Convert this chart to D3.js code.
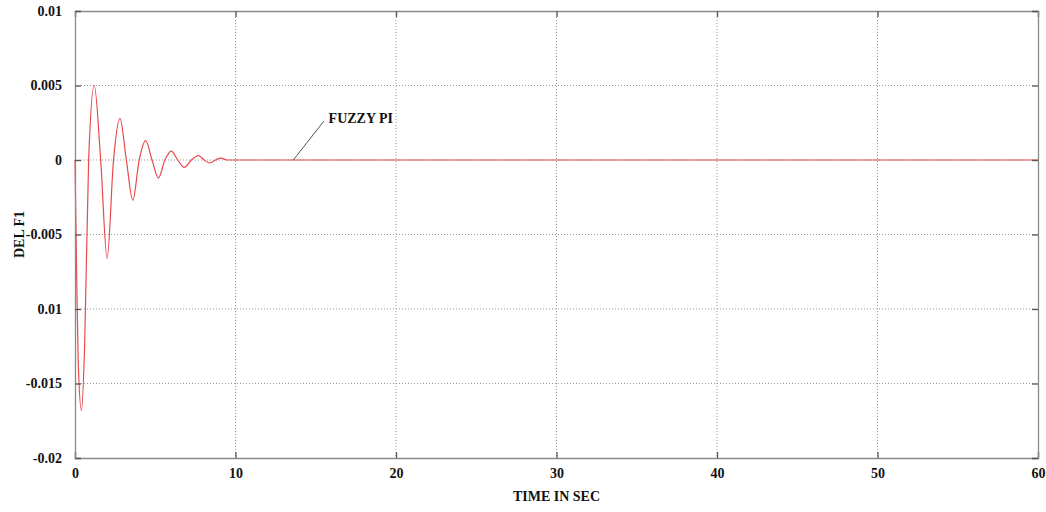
<!DOCTYPE html>
<html>
<head>
<meta charset="utf-8">
<script src="https://cdn.jsdelivr.net/npm/d3@7"></script>
<style>
  html, body { margin: 0; padding: 0; background: #fff; }
  svg { display: block; }
  text { font-family: "Liberation Serif", "Times New Roman", serif; font-weight: bold; fill: #111; }
</style>
</head>
<body>
<svg id="chart" width="1046" height="512"></svg>
<script>
// Frequency deviation response of area 1 with a fuzzy PI controller
const timeSec = [0, 0.1, 0.2, 0.4, 0.6, 0.85, 1.2, 1.6, 2.0, 2.4, 2.8, 3.2, 3.6, 4.0, 4.4, 4.8, 5.2, 5.6, 6.0, 6.4, 6.8, 7.25, 7.7, 8.05, 8.4, 8.75, 9.1, 9.5, 10, 12, 20, 30, 40, 50, 60];
const delF1   = [0, -0.0075, -0.0135, -0.0168, -0.0125, 0, 0.0050, 0, -0.0066, 0, 0.0028, 0, -0.0027, 0, 0.0013, 0, -0.0012, 0, 0.0006, 0, -0.0005, 0, 0.0003, 0, -0.0002, 0, 0.00012, 0, 0, 0, 0, 0, 0, 0, 0];

const xTicks = [0, 10, 20, 30, 40, 50, 60];
const yTicks = [0.01, 0.005, 0, -0.005, -0.01, -0.015, -0.02];
const yTickLabels = ["0.01", "0.005", "0", "-0.005", "0.01", "-0.015", "-0.02"];
const seriesName = "FUZZY PI";

const svg = d3.select("#chart");
const margin = { left: 75, right: 1046 - 1038, top: 11, bottom: 512 - 458 };
const W = 1046, H = 512;

const x = d3.scaleLinear().domain([0, 60]).range([margin.left, W - margin.right]);
const y = d3.scaleLinear().domain([-0.02, 0.01]).range([H - margin.bottom, margin.top]);

// dotted grid
const grid = svg.append("g");
grid.selectAll(".gx").data(xTicks.slice(1, -1)).join("line")
  .attr("x1", d => x(d)).attr("x2", d => x(d))
  .attr("y1", y(0.01)).attr("y2", y(-0.02))
  .attr("stroke", "#9a9a9a").attr("stroke-width", 1).attr("stroke-dasharray", "1,2");
grid.selectAll(".gy").data(yTicks.slice(1, -1)).join("line")
  .attr("x1", x(0)).attr("x2", x(60))
  .attr("y1", d => y(d)).attr("y2", d => y(d))
  .attr("stroke", "#9a9a9a").attr("stroke-width", 1).attr("stroke-dasharray", "1,2");

// response curve
const line = d3.line()
  .x((d, i) => x(timeSec[i]))
  .y(d => y(d))
  .curve(d3.curveMonotoneX);
svg.append("path")
  .datum(delF1)
  .attr("d", line)
  .attr("fill", "none")
  .attr("stroke", "#e8494a")
  .attr("stroke-width", 1.2);

// axes with inward ticks
const axB = d3.axisBottom(x).tickValues(xTicks).tickSize(-6).tickPadding(10).tickFormat(d3.format("d"));
const axT = d3.axisTop(x).tickValues(xTicks).tickSize(-6).tickFormat("");
const axL = d3.axisLeft(y).tickValues(yTicks).tickSize(-6).tickPadding(13).tickFormat((d, i) => yTickLabels[i]);
const axR = d3.axisRight(y).tickValues(yTicks).tickSize(-6).tickFormat("");

function styleAxis(g) {
  g.select(".domain").attr("stroke", "#8a8a8a").attr("stroke-width", 1.3);
  g.selectAll(".tick line").attr("stroke", "#555").attr("stroke-width", 1.3);
  g.selectAll(".tick text").style("font-size", "14px").style("font-family", "Liberation Serif, serif").style("font-weight", "bold").attr("fill", "#111");
}
svg.append("g").attr("transform", `translate(0,${y(-0.02)})`).call(axB).call(styleAxis);
svg.append("g").attr("transform", `translate(0,${y(0.01)})`).call(axT).call(styleAxis);
svg.append("g").attr("transform", `translate(${x(0)},0)`).call(axL).call(styleAxis);
svg.append("g").attr("transform", `translate(${x(60)},0)`).call(axR).call(styleAxis);

// axis titles
svg.append("text")
  .attr("x", (x(0) + x(60)) / 2).attr("y", 501)
  .attr("text-anchor", "middle").style("font-size", "14px")
  .text("TIME IN SEC");
svg.append("text")
  .attr("transform", `translate(24,${(y(0.01) + y(-0.02)) / 2}) rotate(-90)`)
  .attr("text-anchor", "middle").style("font-size", "14px")
  .text("DEL F1");

// series annotation with leader line
svg.append("line")
  .attr("x1", x(13.6)).attr("y1", y(0))
  .attr("x2", x(15.5)).attr("y2", y(0.0026))
  .attr("stroke", "#555").attr("stroke-width", 1);
svg.append("text")
  .attr("x", x(15.8)).attr("y", y(0.0026) + 2)
  .style("font-size", "14px")
  .text(seriesName);
</script>
</body>
</html>
